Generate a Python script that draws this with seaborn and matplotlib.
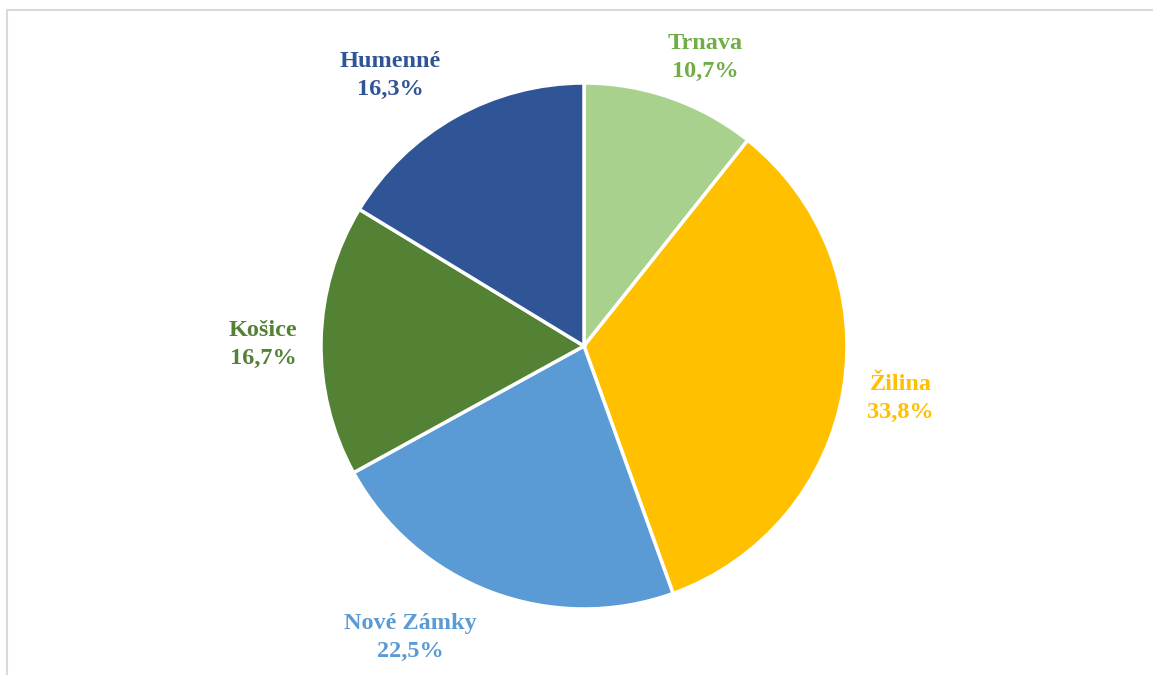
import matplotlib
matplotlib.use("Agg")
import matplotlib.pyplot as plt
from matplotlib.lines import Line2D
import numpy as np
import seaborn as sns

# Share of records by district (percent)
districts = ["Trnava", "Žilina", "Nové Zámky", "Košice", "Humenné"]
shares = [10.7, 33.8, 22.5, 16.7, 16.3]
wedge_colors = ["#A9D18E", "#FFC000", "#5B9BD5", "#548235", "#2F5597"]
label_colors = ["#70AD47", "#FFC000", "#5B9BD5", "#548235", "#2F5597"]

sns.set_theme(style="white")
plt.rcParams["font.family"] = ["Liberation Serif", "DejaVu Serif"]

W, H = 1153, 675
fig = plt.figure(figsize=(W / 100, H / 100), dpi=100)
ax = fig.add_axes([0, 0, 1, 1])

# pie centre and radius in pixels
cx, cy, R = 584, 346, 263

wedges, _ = ax.pie(
    shares,
    colors=wedge_colors,
    startangle=90,
    counterclock=False,
    wedgeprops=dict(edgecolor="white", linewidth=2.5),
)

# label placement: radial distance (in radii) and angular shift from wedge middle
label_dist = [1.19, 1.22, 1.29, 1.22, 1.265]
label_shift = [-3.5, 0.0, -10.0, 1.0, 6.3]
for w, d, v, c, r, s in zip(wedges, districts, shares, label_colors,
                            label_dist, label_shift):
    mid = np.deg2rad((w.theta1 + w.theta2) / 2 + s)
    ax.text(r * np.cos(mid), r * np.sin(mid),
            f"{d}\n{v:.1f}%".replace(".", ","),
            color=c, fontsize=17.5, fontweight="bold", linespacing=1.42,
            ha="center", va="center")

ax.set_aspect("auto")
ax.set_xlim(-cx / R, (W - cx) / R)
ax.set_ylim(-(H - cy) / R, cy / R)
ax.axis("off")

# light frame along top and left edges
frame = "#D9D9D9"
fig.add_artist(Line2D([7 / W, 1], [1 - 10 / H, 1 - 10 / H], color=frame, lw=1.5,
                      transform=fig.transFigure))
fig.add_artist(Line2D([7 / W, 7 / W], [0, 1 - 10 / H], color=frame, lw=1.5,
                      transform=fig.transFigure))

fig.savefig("out.png", dpi=100, facecolor="white")
